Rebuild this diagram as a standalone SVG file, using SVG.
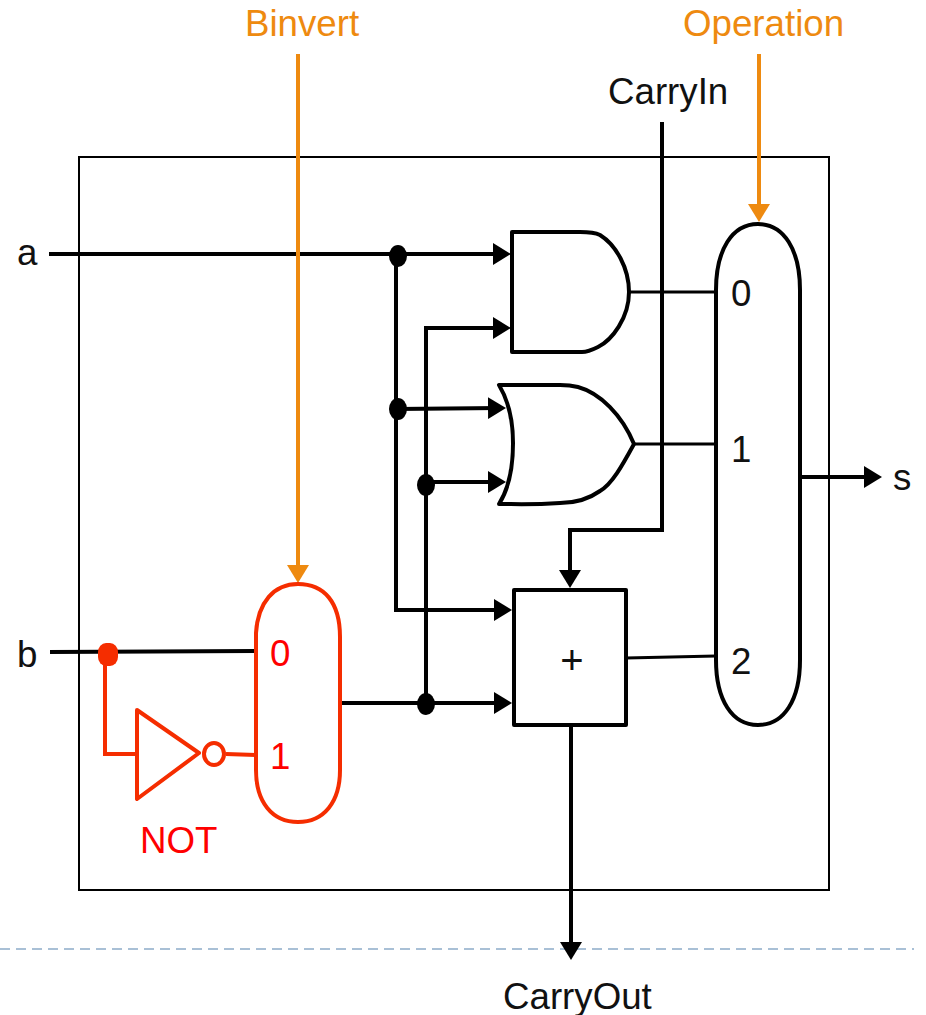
<svg xmlns="http://www.w3.org/2000/svg" width="926" height="1015" viewBox="0 0 926 1015">
<style>
text{font-family:"Liberation Sans",Arial,sans-serif;font-size:36.7px;fill:#111}
.s{fill:none;stroke:#000;stroke-width:4}
.w{fill:#fff;stroke:#000;stroke-width:4;stroke-linejoin:round}
.t{fill:none;stroke:#000;stroke-width:3}
.r{fill:none;stroke:#f52d00;stroke-width:4}
.rw{fill:#fff;stroke:#f52d00;stroke-width:4;stroke-linejoin:round}
.o{fill:none;stroke:#ee8a10;stroke-width:4}
text.ot{fill:#ee8a10}
text.rt{fill:#ff0000}
</style>
<defs>
<marker id="a" markerUnits="userSpaceOnUse" markerWidth="20" markerHeight="24" refX="12" refY="11" orient="auto"><path d="M0 0L18 11L0 22Z" fill="#000"/></marker>
<marker id="ao" markerUnits="userSpaceOnUse" markerWidth="20" markerHeight="24" refX="12" refY="13" orient="auto"><path d="M0 2L18 13L0 24Z" fill="#ee8a10"/></marker>
</defs>
<path d="M0 949H914" fill="none" stroke="#a9c0d6" stroke-width="2" stroke-dasharray="10 6"/>
<g id="frame"><rect x="79" y="157" width="750" height="733" fill="none" stroke="#000" stroke-width="2"/></g>
<g id="connectors">
<path class="s" d="M49 254H505" marker-end="url(#a)"/>
<path class="s" d="M396 254V610H506" marker-end="url(#a)"/>
<path class="s" d="M396 409L500 408" marker-end="url(#a)"/>
<path class="s" d="M426 703V328H505" marker-end="url(#a)"/>
<path class="s" d="M426 482H500" marker-end="url(#a)"/>
<path class="s" d="M341 703H506" marker-end="url(#a)"/>
<path class="s" d="M662 122V530H570V582" marker-end="url(#a)"/>
<path class="s" d="M571 726V954" marker-end="url(#a)"/>
<path class="s" d="M800 477H876" marker-end="url(#a)"/>
<path class="t" d="M629 292H716M634 444H716M626 658L716 656"/>
<path class="s" d="M50 652L256 651"/>
<path class="o" d="M298 54V577" marker-end="url(#ao)"/>
<path class="o" d="M759 54V216" marker-end="url(#ao)"/>
<path class="r" d="M105 665V754H137M226 754L256 755"/>
<ellipse cx="398" cy="256" rx="9" ry="11" fill="#000"/>
<ellipse cx="398" cy="409" rx="9" ry="11" fill="#000"/>
<ellipse cx="426" cy="485" rx="9" ry="11" fill="#000"/>
<ellipse cx="426" cy="704" rx="9" ry="11" fill="#000"/>
<rect x="98" y="643" width="20" height="23" rx="8" ry="9" fill="#f52d00"/>
</g>
<g id="and-gate"><path class="w" d="M512 232H580C590 232 596 233 600 235C616 245 629 268 629 292C629 318 612 340 598 347C590 351 586 352 582 352H512Z"/></g>
<g id="or-gate"><path class="w" d="M499 385H560C568 385 574 386 578 387C600 393 622 415 634 444C622 466 612 484 600 491C586 501 572 503 560 503C530 505 515 504 499 504C508 490 513 470 513 443C513 420 508 400 499 385Z"/></g>
<g id="adder"><rect class="w" x="514" y="590" width="112" height="135"/><text x="572" y="674" text-anchor="middle" style="font-size:40px">+</text></g>
<g id="mux-op"><path class="w" d="M716 290C716 250 732 224 758 224C784 224 800 250 800 290V660C800 700 784 725 758 725C732 725 716 700 716 660Z"/><text x="731" y="306">0</text><text x="731" y="462">1</text><text x="731" y="674">2</text></g>
<g id="mux-b"><path class="rw" d="M256 633C258 602 274 584 298 584C324 584 340 602 340 637V770C340 802 324 822 298 822C272 822 256 802 256 770Z"/><text class="rt" x="270" y="666">0</text><text class="rt" x="270" y="769">1</text></g>
<g id="not-gate"><path class="rw" d="M137 710L199 753L137 799Z"/><ellipse class="r" cx="214" cy="754" rx="10" ry="11"/><text class="rt" x="140" y="853">NOT</text></g>
<g id="labels">
<text class="ot" x="245" y="36">Binvert</text>
<text class="ot" x="683" y="36">Operation</text>
<text x="608" y="104">CarryIn</text>
<text x="17" y="265">a</text>
<text x="17" y="667">b</text>
<text x="893" y="490">s</text>
<text x="503" y="1009">CarryOut</text>
</g>
</svg>
